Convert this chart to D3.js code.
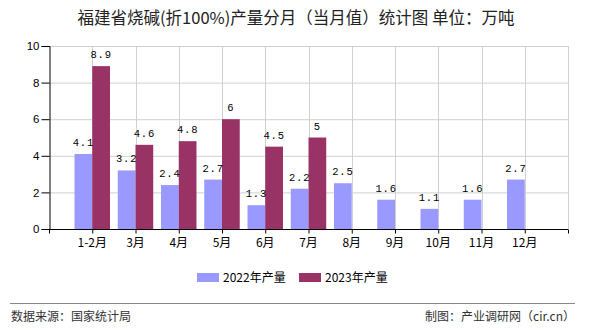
<!DOCTYPE html>
<html><head><meta charset="utf-8">
<script src="https://cdn.jsdelivr.net/npm/d3@7"></script>
<style>body{margin:0;background:#fff}svg{display:block}</style>
</head><body>
<svg id="c" width="590" height="330"></svg>
<script>
const categories = ["1-2月","3月","4月","5月","6月","7月","8月","9月","10月","11月","12月"];
const values2022 = [4.1,3.2,2.4,2.7,1.3,2.2,2.5,1.6,1.1,1.6,2.7];
const values2023 = [8.9,4.6,4.8,6,4.5,5,null,null,null,null,null];
const seriesNames = ["2022年产量","2023年产量"];
const yTicks = [0,2,4,6,8,10];
const colors = ["#9999ff","#993366"];

const svg = d3.select("#c");
const L=49, R=568, T=46, B=229;
const x = d3.scaleLinear().domain([0, categories.length+1]).range([L,R]);
const y = d3.scaleLinear().domain([0,10]).range([B,T]);
const step = x(1)-x(0);
const bw = step*0.41;

// title
svg.append("text").attr("x",296).attr("y",24).attr("text-anchor","middle")
  .attr("font-family","'Noto Sans CJK SC',sans-serif").attr("font-size",16.5).attr("fill","#222")
  .text("福建省烧碱(折100%)产量分月（当月值）统计图 单位：万吨");

// grid
const g = svg.append("g");
g.selectAll(".hg").data(yTicks.filter(d=>d>0)).join("line")
  .attr("x1",L).attr("x2",R).attr("y1",d=>y(d)+0.5).attr("y2",d=>y(d)+0.5)
  .attr("stroke","#d0d0d0");
g.selectAll(".vg").data(d3.range(1,categories.length+2)).join("line")
  .attr("x1",d=>Math.round(x(d))+0.5).attr("x2",d=>Math.round(x(d))+0.5).attr("y1",T).attr("y2",B)
  .attr("stroke","#d0d0d0");

// bars
const bars = svg.append("g");
bars.selectAll(".b1").data(values2022).join("rect")
  .attr("x",(d,i)=>x(i+1)-bw).attr("width",bw)
  .attr("y",d=>y(d)).attr("height",d=>B-y(d)).attr("fill",colors[0]);
bars.selectAll(".b2").data(values2023.map((v,i)=>({v,i})).filter(d=>d.v!=null)).join("rect")
  .attr("x",d=>x(d.i+1)).attr("width",bw)
  .attr("y",d=>y(d.v)).attr("height",d=>B-y(d.v)).attr("fill",colors[1]);

// value labels
const lf = "'Liberation Mono',monospace";
bars.selectAll(".l1").data(values2022).join("text")
  .attr("x",(d,i)=>x(i+1)-bw/2).attr("y",d=>y(d)-8).attr("text-anchor","middle")
  .attr("font-family",lf).attr("font-size",10.5).attr("letter-spacing",0.8).attr("fill","#000").text(d=>d);
bars.selectAll(".l2").data(values2023.map((v,i)=>({v,i})).filter(d=>d.v!=null)).join("text")
  .attr("x",d=>x(d.i+1)+bw/2).attr("y",d=>y(d.v)-8).attr("text-anchor","middle")
  .attr("font-family",lf).attr("font-size",10.5).attr("letter-spacing",0.8).attr("fill","#000").text(d=>d.v);

// y axis
const ya = svg.append("g").attr("transform",`translate(${L+0.5},0)`)
  .call(d3.axisLeft(y).tickValues(yTicks).tickSize(8).tickPadding(2));
ya.select(".domain").attr("stroke","#000");
ya.selectAll("line").attr("stroke","#000");
ya.selectAll("text").attr("font-family","'Liberation Sans',Arial,sans-serif").attr("font-size",11.5).attr("fill","#000");

// x axis
const xa = svg.append("g").attr("transform",`translate(0,${B+0.5})`)
  .call(d3.axisBottom(x).tickValues(d3.range(0,categories.length+2)).tickSize(4).tickFormat(""));
xa.select(".domain").attr("stroke","#000").attr("d",`M${L},0H${R}`);
xa.selectAll("line").attr("stroke","#000");
svg.append("g").selectAll("text").data(categories).join("text")
  .attr("x",(d,i)=>x(i+1)).attr("y",247).attr("text-anchor","middle")
  .attr("font-family","'Noto Sans CJK SC',sans-serif").attr("font-size",12).attr("fill","#000").text(d=>d);

// legend
const lg = svg.append("g");
const lx = [197,299];
seriesNames.forEach((n,i)=>{
  lg.append("rect").attr("x",lx[i]).attr("y",273).attr("width",22).attr("height",9).attr("fill",colors[i]);
  lg.append("text").attr("x",lx[i]+26).attr("y",282).attr("font-family","'Noto Sans CJK SC',sans-serif")
    .attr("font-size",12).attr("fill","#000").text(n);
});

// footer
svg.append("line").attr("x1",10).attr("x2",575).attr("y1",303.5).attr("y2",303.5).attr("stroke","#888");
svg.append("text").attr("x",11).attr("y",321).attr("font-family","'Noto Sans CJK SC',sans-serif")
  .attr("font-size",12).attr("fill","#333").text("数据来源：国家统计局");
svg.append("text").attr("x",575).attr("y",321).attr("text-anchor","end").attr("font-family","'Noto Sans CJK SC',sans-serif")
  .attr("font-size",12).attr("fill","#333").text("制图：产业调研网（cir.cn）");
</script>
</body></html>
